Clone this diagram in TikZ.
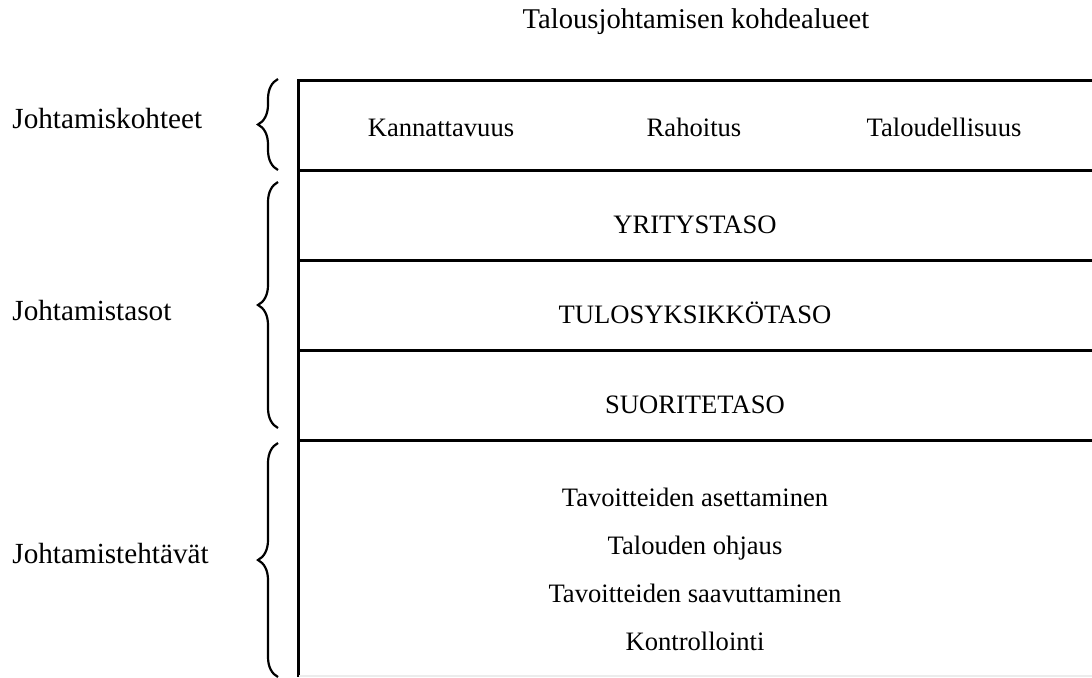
\documentclass[tikz,border=0pt]{standalone}
\usepackage{fontspec}
\setmainfont{Liberation Serif}
\usetikzlibrary{decorations.pathreplacing}

\begin{document}
\begin{tikzpicture}[x=0.5pt, y=-0.5pt,
    txt/.style={anchor=base, inner sep=0pt, font=\fontsize{13.3}{16}\selectfont},
    side/.style={txt, anchor=base west, font=\fontsize{14.6}{17}\selectfont},
    rule/.style={line width=1.5pt},
    curly/.style={line width=1.1pt, decorate, decoration={brace, amplitude=10pt}}]
    \useasboundingbox (0,0) rectangle (1092,677);
    \node[txt, font=\fontsize{14.3}{17}\selectfont] (title) at (696,28) {Talousjohtamisen kohdealueet};
    % table
    \draw[rule] (1092,80) -- (298,80) -- (298,677);
    \foreach \y in {170,260,350,440}
        \draw[rule] (298,\y) -- (1092,\y);
    \draw[gray!15, line width=0.8pt] (299,676) -- (1092,676);
    \node[txt] (kann) at (441,136) {Kannattavuus};
    \node[txt] (raho) at (694,136) {Rahoitus};
    \node[txt] (talo) at (944,136) {Taloudellisuus};
    \node[txt] (yritys) at (695,233) {YRITYSTASO};
    \node[txt] (tulos) at (695,323) {TULOSYKSIKKÖTASO};
    \node[txt] (suorite) at (695,413) {SUORITETASO};
    \node[txt] (tav1) at (695,506) {Tavoitteiden asettaminen};
    \node[txt] (ohjaus) at (695,554) {Talouden ohjaus};
    \node[txt] (tav2) at (695,602) {Tavoitteiden saavuttaminen};
    \node[txt] (kontr) at (695,650) {Kontrollointi};
    % left side
    \node[side] (kohteet) at (12,128) {Johtamiskohteet};
    \node[side] (tasot) at (12,320) {Johtamistasot};
    \node[side] (tehtavat) at (12,563) {Johtamistehtävät};
    \draw[curly] (278,170) -- (278,79);
    \draw[curly] (278,428) -- (278,182);
    \draw[curly] (278,677) -- (278,443);
\end{tikzpicture}
\end{document}
